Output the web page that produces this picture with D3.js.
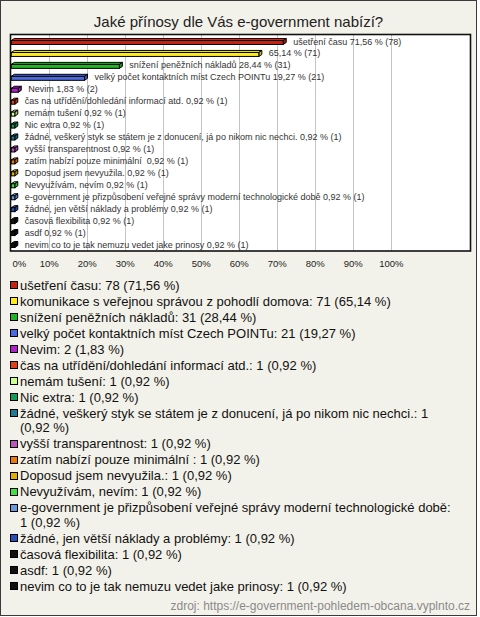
<!DOCTYPE html>
<html><head><meta charset="utf-8">
<script src="https://cdn.jsdelivr.net/npm/d3@7"></script>
<style>
html,body{margin:0;padding:0;background:#fff;}
svg{display:block;font-family:"Liberation Sans",Arial,sans-serif;}
text{white-space:pre;}
</style></head>
<body>
<svg id="c" width="480" height="617"></svg>
<script>
const title = "Jaké přínosy dle Vás e-government nabízí?";
const barLabels = [
  "ušetření času",
  "komunikace s veřejnou správou z pohodlí domova",
  "snížení peněžních nákladů",
  "velký počet kontaktních míst Czech POINTu",
  "Nevim",
  "čas na utřídění/dohledání informací atd.",
  "nemám tušení",
  "Nic extra",
  "žádné, veškerý styk se státem je z donucení, já po nikom nic nechci.",
  "vyšší transparentnost",
  "zatím nabízí pouze minimální ",
  "Doposud jsem nevyužila.",
  "Nevyužívám, nevím",
  "e-government je přizpůsobení veřejné správy moderní technologické době",
  "žádné, jen větší náklady a problémy",
  "časová flexibilita",
  "asdf",
  "nevim co to je tak nemuzu vedet jake prinosy"
];
const counts = [78, 71, 31, 21, 2, 1, 1, 1, 1, 1, 1, 1, 1, 1, 1, 1, 1, 1];
const percents = [71.56, 65.14, 28.44, 19.27, 1.83, 0.92, 0.92, 0.92, 0.92, 0.92, 0.92, 0.92, 0.92, 0.92, 0.92, 0.92, 0.92, 0.92];
const colors = ["#c8210f", "#ffea1c", "#1fb524", "#4a6ae0", "#b021c8", "#e0401a", "#ccff8c", "#129a57",
  "#1f7a94", "#bb55bb", "#ec7a06", "#e0b000", "#40e040", "#6a98dc", "#2850b8", "#111111", "#111111", "#111111"];
const tickValues = [0, 10, 20, 30, 40, 50, 60, 70, 80, 90, 100];
const source = "zdroj: https://e-government-pohledem-obcana.vyplnto.cz";

const fmt = v => d3.format(".2f")(v).replace(".", ",");
const svg = d3.select("#c");

// outer frame
svg.append("rect").attr("x", 0.5).attr("y", 0.5).attr("width", 476).attr("height", 615)
  .attr("fill", "#f3f2ea").attr("stroke", "#3a3a3a").attr("stroke-width", 1);

svg.append("text").attr("x", 238.5).attr("y", 27).attr("text-anchor", "middle")
  .attr("font-size", 15).attr("fill", "#222").text(title);

// plot box
const box = {l: 10.5, t: 34.5, r: 470.5, b: 251};
svg.append("rect").attr("x", box.l).attr("y", box.t).attr("width", box.r - box.l).attr("height", box.b - box.t)
  .attr("fill", "#fff");

const x = d3.scaleLinear().domain([0, 100]).range([11.3, 391.3]);
const y = d3.scalePoint().domain(d3.range(barLabels.length)).range([41, 244]);

// grid
svg.append("g").selectAll("line").data(tickValues.filter(d => d > 0)).join("line")
  .attr("x1", d => Math.round(x(d)) + 0.5).attr("x2", d => Math.round(x(d)) + 0.5)
  .attr("y1", box.t).attr("y2", box.b).attr("stroke", "#c4c4c4").attr("stroke-width", 1);

svg.append("rect").attr("x", box.l).attr("y", box.t).attr("width", box.r - box.l).attr("height", box.b - box.t)
  .attr("fill", "none").attr("stroke", "#111").attr("stroke-width", 1.6);

// bars (3D)
const dx = 3, dy = 2, fh = 4;
const bars = svg.append("g");
barLabels.forEach((lab, i) => {
  const x0 = x(0), x1 = x(percents[i]);
  const yt = y(i) - 0.5;
  const c = colors[i];
  const g = bars.append("g").attr("stroke", "#000").attr("stroke-width", 1).attr("stroke-linejoin", "miter");
  g.append("path").attr("fill", d3.color(c).brighter(0.3))
    .attr("d", `M${x0},${yt}L${x0 + dx},${yt - dy}L${x1 + dx},${yt - dy}L${x1},${yt}Z`);
  g.append("path").attr("fill", d3.color(c).darker(0.6))
    .attr("d", `M${x1},${yt}L${x1 + dx},${yt - dy}L${x1 + dx},${yt - dy + fh}L${x1},${yt + fh}Z`);
  g.append("rect").attr("x", x0).attr("y", yt).attr("width", x1 - x0).attr("height", fh).attr("fill", c);
});

// bar labels
const lblG = svg.append("g").attr("font-size", 9).attr("fill", "#333");
barLabels.forEach((lab, i) => {
  const lx = x(percents[i]) + 10;
  const tail = fmt(percents[i]) + " % (" + counts[i] + ")";
  const t = lblG.append("text").attr("x", lx).attr("y", y(i) + 3.5).text(lab + " " + tail);
  if (lx + t.node().getComputedTextLength() > box.r - 2) t.text(tail);
});

// x axis labels
const axis = d3.axisBottom(x).tickValues(tickValues).tickSize(0).tickPadding(0).tickFormat(d => d + "%");
const ax = svg.append("g").attr("transform", "translate(0,260)").call(axis);
ax.select(".domain").remove();
ax.selectAll("text").attr("font-size", 9.5).attr("fill", "#222")
  .attr("font-family", "Liberation Sans, Arial, sans-serif").attr("dy", "0.71em")
  .attr("text-anchor", d => d === 0 ? "start" : "middle")
  .attr("x", d => d === 0 ? 0.7 : -0.5);

// legend
const leg = svg.append("g").attr("font-size", 13).attr("fill", "#111");
const maxW = 436;
const lineH = 14.6, pitch = 16;
let cy = 285;
barLabels.forEach((lab, i) => {
  const str = lab + ": " + counts[i] + " (" + fmt(percents[i]) + "\u00a0%)";
  leg.append("rect").attr("x", 10.5).attr("y", Math.round(cy - 4) + 0.5).attr("width", 7).attr("height", 7)
    .attr("fill", colors[i]).attr("stroke", "#000").attr("stroke-width", 1);
  const words = str.split(" ");
  let line = "", lines = [];
  const t = leg.append("text").attr("x", 20).attr("y", cy + 4.5);
  words.forEach((w, k) => {
    const test = k === 0 ? w : line + " " + w;
    t.text(test);
    if (t.node().getComputedTextLength() > maxW && line !== "") { lines.push(line); line = w; }
    else line = test;
  });
  lines.push(line);
  t.text(null);
  lines.forEach((ln, k) => {
    t.append("tspan").attr("x", 20).attr("dy", k === 0 ? 0 : lineH).text(ln);
  });
  cy += pitch + (lines.length - 1) * lineH;
});

svg.append("text").attr("x", 470).attr("y", 609.5).attr("text-anchor", "end")
  .attr("font-size", 12).attr("fill", "#8a8a8a").text(source);
</script>
</body></html>
